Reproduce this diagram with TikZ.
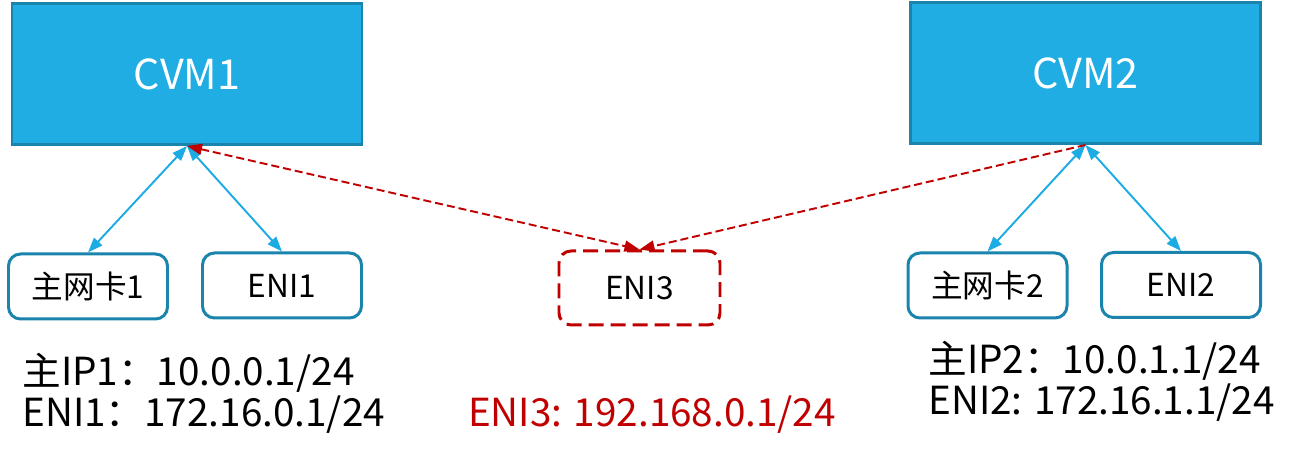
\documentclass[tikz,border=0pt]{standalone}
\usepackage{fontspec}
\setmainfont{Noto Sans CJK SC}
\usetikzlibrary{arrows.meta}

\definecolor{vmblue}{HTML}{1FADE4}
\definecolor{vmedge}{HTML}{1A84AD}
\definecolor{linkblue}{HTML}{1CABE2}
\definecolor{darkred}{HTML}{C00000}

\tikzset{
  vmbox/.style={draw=vmedge,fill=vmblue,line width=1.7pt,minimum width=7cm,
    minimum height=2.82cm,text=white,font=\fontsize{23.5}{27}\selectfont},
  nicbox/.style={draw=vmedge,fill=white,line width=1.7pt,rounded corners=0.24cm,
    minimum width=3.18cm,minimum height=1.3cm,font=\fontsize{18}{22}\selectfont},
  link/.style={linkblue,line width=1.1pt,{Triangle[length=0.3cm,width=0.22cm]}-{Triangle[length=0.3cm,width=0.22cm]}},
  redlink/.style={darkred,line width=1.1pt,dash pattern=on 0.16cm off 0.08cm},
  iptext/.style={align=left,anchor=west,inner sep=0pt,font=\fontsize{22}{23.5}\selectfont}
}

\begin{document}
\begin{tikzpicture}
          \useasboundingbox (0,0) rectangle (25.94,9.28);
          % the two hosts
          \node[vmbox] (cvm1) at (3.74,7.8) {CVM1};
          \node[vmbox] (cvm2) at (21.71,7.82) {CVM2};
          % network cards
          \node[nicbox] (nic1) at (1.76,3.55) {主网卡1};
          \node[nicbox] (eni1) at (5.64,3.57) {ENI1};
          \node[nicbox,draw=darkred,dash pattern=on 0.3cm off 0.14cm,
            minimum width=3.22cm,minimum height=1.48cm] (eni3) at (12.79,3.52) {ENI3};
          \node[nicbox] (nic2) at (19.75,3.57) {主网卡2};
          \node[nicbox] (eni2) at (23.62,3.58) {ENI2};
          % links
          \draw[link] (cvm1.south) -- (nic1.north);
          \draw[link] (cvm1.south) -- (eni1.north);
          \draw[link] (cvm2.south) -- (nic2.north);
          \draw[link] (cvm2.south) -- (eni2.north);
          \draw[redlink,{Triangle[length=0.3cm,width=0.22cm]}-{Triangle[length=0.3cm,width=0.22cm]}]
            (cvm1.south) -- (eni3.north);
          \draw[redlink,-{Triangle[length=0.3cm,width=0.22cm]}]
            (cvm2.south) -- (eni3.north);
          % addresses
          \node[iptext] (ip1) at (0.44,1.42) {主IP1：10.0.0.1/24\\ENI1：172.16.0.1/24};
          \node[iptext] (ip2) at (18.56,1.66) {主IP2：10.0.1.1/24\\ENI2: 172.16.1.1/24};
          \node[iptext,anchor=center,text=darkred] (ip3) at (13.04,0.98) {ENI3: 192.168.0.1/24};
        \end{tikzpicture}
\end{document}
